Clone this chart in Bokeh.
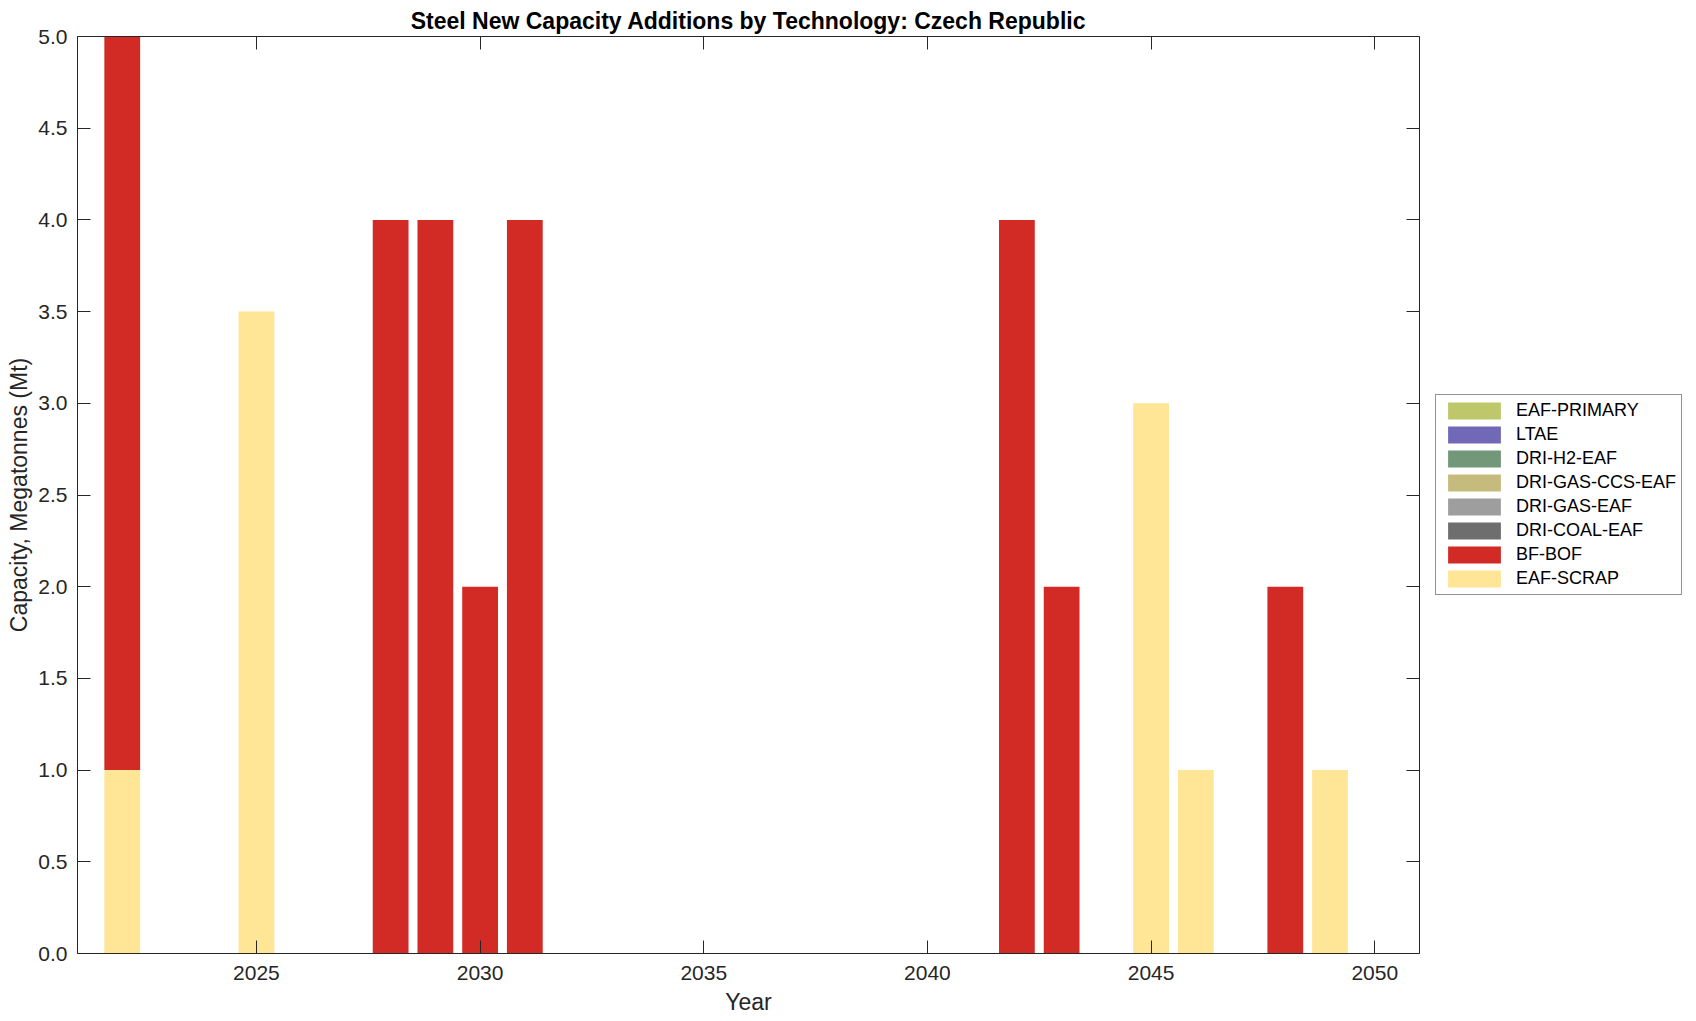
from bokeh.plotting import figure
from bokeh.layouts import row
from bokeh.models import (ColumnDataSource, Range1d, LinearAxis, FixedTicker,
                          Legend, LegendItem, NumeralTickFormatter)
from bokeh.embed import file_html
from bokeh.resources import INLINE

# ---------------- data ----------------
years = list(range(2022, 2051))
techs_bottom_to_top = ["EAF-SCRAP", "BF-BOF", "DRI-COAL-EAF", "DRI-GAS-EAF",
                       "DRI-GAS-CCS-EAF", "DRI-H2-EAF", "LTAE", "EAF-PRIMARY"]
colors = {
    "EAF-PRIMARY": "#BEC76A",
    "LTAE": "#7268B8",
    "DRI-H2-EAF": "#729779",
    "DRI-GAS-CCS-EAF": "#C4BB7D",
    "DRI-GAS-EAF": "#9E9E9E",
    "DRI-COAL-EAF": "#6E6E6E",
    "BF-BOF": "#D22B26",
    "EAF-SCRAP": "#FFE596",
}
#             2022 23 24  25  26 27 28 29 30 31 32 33 34 35 36 37 38 39 40 41 42 43 44 45 46 47 48 49 50
eaf_scrap =   [1, 0, 0, 3.5, 0, 0, 0, 0, 0, 0, 0, 0, 0, 0, 0, 0, 0, 0, 0, 0, 0, 0, 0, 3, 1, 0, 0, 1, 0]
bf_bof =      [4, 0, 0, 0,   0, 0, 4, 4, 2, 4, 0, 0, 0, 0, 0, 0, 0, 0, 0, 0, 4, 2, 0, 0, 0, 0, 2, 0, 0]
dri_coal =    [0] * 29
dri_gas =     [0] * 29
dri_gas_ccs = [0] * 29
dri_h2 =      [0] * 29
ltae =        [0] * 29
eaf_primary = [0] * 29
x_ticks = [2025, 2030, 2035, 2040, 2045, 2050]
y_ticks = [0, 0.5, 1, 1.5, 2, 2.5, 3, 3.5, 4, 4.5, 5]

series = {
    "EAF-SCRAP": eaf_scrap, "BF-BOF": bf_bof, "DRI-COAL-EAF": dri_coal,
    "DRI-GAS-EAF": dri_gas, "DRI-GAS-CCS-EAF": dri_gas_ccs, "DRI-H2-EAF": dri_h2,
    "LTAE": ltae, "EAF-PRIMARY": eaf_primary,
}
src = ColumnDataSource(dict(year=years, **series))

AX = "#262626"
FONT = "Liberation Sans"

p = figure(frame_width=1342, frame_height=917, output_backend="svg",
           toolbar_location=None, x_range=Range1d(2021, 2051),
           y_range=Range1d(0, 5), min_border_left=77, min_border_right=8,
           min_border_top=36, min_border_bottom=55,
           title="Steel New Capacity Additions by Technology: Czech Republic")
p.title.align = "center"
p.title.text_font = FONT
p.title.text_font_size = "23px"
p.title.text_font_style = "bold"
p.title.text_color = "black"
p.title.standoff = 5
p.grid.visible = False
p.outline_line_color = None
p.background_fill_color = "white"

rs = p.vbar_stack(techs_bottom_to_top, x="year", width=0.8, source=src,
                  color=[colors[t] for t in techs_bottom_to_top], line_color=None)

def style_axis(ax, ticks, labels=True):
    ax.axis_line_color = AX
    ax.axis_line_width = 1
    ax.major_tick_line_color = AX
    ax.major_tick_in = 13
    ax.major_tick_out = 0
    ax.minor_tick_line_color = None
    ax.major_label_text_font = FONT
    ax.major_label_text_color = AX
    if labels:
        ax.major_label_text_font_size = "21px"
        ax.major_label_standoff = 10
    else:
        ax.major_label_text_font_size = "1px"
        ax.major_label_overrides = {t: "" for t in ticks}
        ax.major_label_standoff = 0
    ax.axis_label_text_font = FONT
    ax.axis_label_text_font_size = "23px"
    ax.axis_label_text_font_style = "normal"
    ax.axis_label_text_color = AX

xa = p.xaxis[0]
ya = p.yaxis[0]
xa.ticker = FixedTicker(ticks=x_ticks)
ya.ticker = FixedTicker(ticks=y_ticks)
ya.formatter = NumeralTickFormatter(format="0.0")
xa.axis_label = "Year"
ya.axis_label = "Capacity, Megatonnes (Mt)"
style_axis(xa, x_ticks)
style_axis(ya, y_ticks)
xa.major_label_standoff = 12
xa.axis_label_standoff = 6
ya.axis_label_standoff = 3

top = LinearAxis(ticker=FixedTicker(ticks=x_ticks))
right = LinearAxis(ticker=FixedTicker(ticks=y_ticks))
style_axis(top, x_ticks, labels=False)
style_axis(right, y_ticks, labels=False)
p.add_layout(top, "above")
p.add_layout(right, "right")

# ---------------- legend panel ----------------
lf = figure(width=261, height=1005, output_backend="svg", toolbar_location=None,
            x_range=Range1d(0, 1), y_range=Range1d(0, 1), min_border=0)
lf.axis.visible = False
lf.grid.visible = False
lf.outline_line_color = None
items = []
for t in reversed(techs_bottom_to_top):
    # zero-size stand-in glyph, only used to draw the legend swatch
    r = lf.vbar(x=[0.5], top=[0], bottom=[0], width=0.0, fill_color=colors[t],
                line_color=None)
    items.append(LegendItem(label=t, renderers=[r]))
legend = Legend(items=items, location=(8, 346))
legend.label_text_font = FONT
legend.label_text_font_size = "18px"
legend.label_text_color = "black"
legend.glyph_width = 66
legend.glyph_height = 21
legend.label_height = 21
legend.label_standoff = 9
legend.spacing = 3
legend.padding = 5
legend.margin = 0
legend.border_line_color = AX
legend.border_line_width = 1
legend.background_fill_color = "white"
legend.background_fill_alpha = 1
lf.add_layout(legend, "center")

layout = row(p, lf)
open("out.html", "w").write(file_html(layout, INLINE))
